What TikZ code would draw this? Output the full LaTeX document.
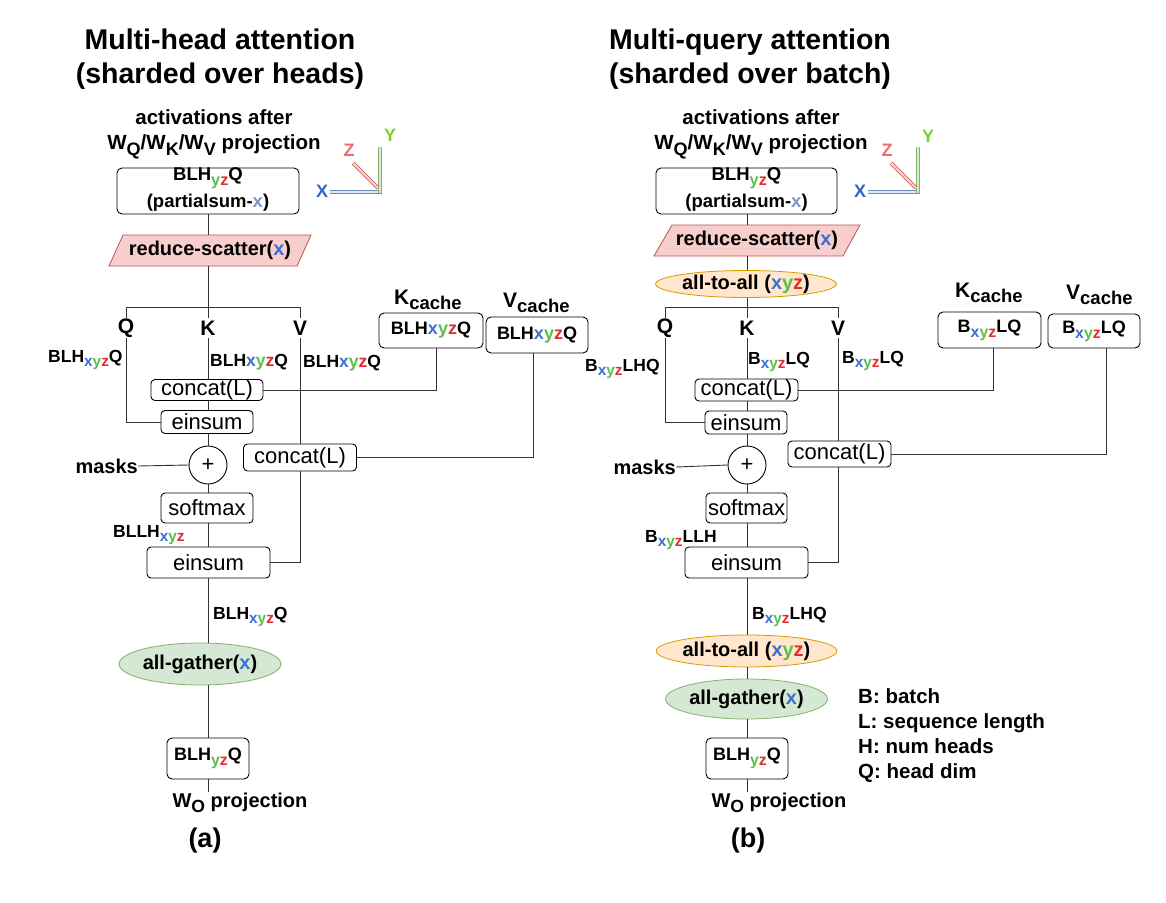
\documentclass[tikz,border=0pt]{standalone}
\usepackage{fontspec}
\setmainfont{Liberation Sans}
\usetikzlibrary{shapes.geometric}
\definecolor{cxb}{HTML}{3B6FD4}
\definecolor{cyg}{HTML}{5CBF4A}
\definecolor{czr}{HTML}{E52B2B}
\definecolor{cxl}{HTML}{7F94C9}
\definecolor{axXlab}{HTML}{2F66CC}
\definecolor{axYlab}{HTML}{77D12E}
\definecolor{axZlab}{HTML}{EE6E6E}
\definecolor{rsfill}{HTML}{F8CECC}
\definecolor{rsdraw}{HTML}{B85450}
\definecolor{agfill}{HTML}{D5E8D4}
\definecolor{agdraw}{HTML}{82B366}
\definecolor{aafill}{HTML}{FFE6CC}
\definecolor{aadraw}{HTML}{D79B00}
\definecolor{axXfill}{HTML}{DAE8FC}
\definecolor{axXdraw}{HTML}{6C8EBF}
\newcommand{\fsz}[1]{\fontsize{#1}{#1}\selectfont}
\newcommand{\sbs}[1]{\raisebox{-0.27em}{\scalebox{0.88}{#1}}}
\newcommand{\cX}{\textcolor{cxb}{x}}
\newcommand{\cY}{\textcolor{cyg}{y}}
\newcommand{\cZ}{\textcolor{czr}{z}}
\newcommand{\XYZ}{\cX\cY\cZ}
\newcommand{\sxyz}{\sbs{\XYZ}}
\newcommand{\syz}{\sbs{\cY\cZ}}
\begin{document}
\begin{tikzpicture}[x=1pt,y=-1pt,
  conn/.style={draw=black!80, line width=0.9pt},
  rbox/.style={draw=black, line width=0.9pt, rounded corners=5pt, inner sep=0pt, font=\fsz{18}\bfseries},
  opbox/.style={draw=black, line width=0.9pt, rounded corners=4pt, inner sep=0pt, font=\fsz{22}},
  lbl/.style={inner sep=0pt, font=\fsz{17.5}\bfseries},
  qkv/.style={inner sep=0pt, minimum height=20pt, font=\fsz{21}\bfseries},
  cachelbl/.style={inner sep=0pt, font=\fsz{21}\bfseries},
  ttl/.style={align=center, inner sep=0pt, font=\fontsize{28.5}{34}\selectfont\bfseries},
  hdr/.style={align=center, inner sep=0pt, font=\fontsize{20.5}{25}\selectfont\bfseries},
  rstext/.style={inner sep=0pt, minimum height=31pt, font=\fsz{20}\bfseries},
  rsshape/.style={fill=rsfill, draw=rsdraw, line width=0.8pt},
  aggr/.style={ellipse, fill=agfill, draw=agdraw, line width=0.8pt, inner sep=0pt, font=\fsz{20}\bfseries},
  atoa/.style={ellipse, fill=aafill, draw=aadraw, line width=0.8pt, inner sep=0pt, font=\fsz{20}\bfseries},
  plusc/.style={circle, draw=black, line width=0.9pt, minimum size=38pt, inner sep=0pt, font=\fsz{22}},
  axX/.style={draw=axXdraw, double=axXfill, double distance=2.2pt, line width=0.8pt},
  axY/.style={draw=agdraw, double=agfill, double distance=2.2pt, line width=0.8pt},
  axZ/.style={draw=rsdraw, double=rsfill, double distance=2.2pt, line width=0.8pt},
  axl/.style={inner sep=0pt, font=\fsz{18}\bfseries},
  wolbl/.style={inner sep=1pt, font=\fsz{20}\bfseries},
  sublbl/.style={inner sep=0pt, font=\fsz{27}\bfseries},
  leg/.style={inner sep=0pt, anchor=base west, font=\fsz{20.5}\bfseries}
]
\useasboundingbox (0,0) rectangle (1166,902);

% ================= (a) =================
\node[ttl] (t1) at (220,59) {Multi-head attention\\(sharded over heads)};
\node[hdr] (h1) at (214,134.5) {activations after\\W\sbs{Q}/W\sbs{K}/W\sbs{V} projection};
\node[rbox, minimum width=182pt, minimum height=46pt, align=center, font=\fontsize{18.5}{27}\selectfont\bfseries] (box1) at (208,191) {BLH\syz Q\\(partialsum-\textcolor{cxl}{x})\rule[-6pt]{0pt}{0pt}};

\draw[axX] (330,192) -- (382,192);
\draw[axY] (380,147) -- (380,193);
\draw[axZ] (353,163) -- (378,188);
\node[axl, text=axXlab] (xl1) at (322,191) {X};
\node[axl, text=axYlab] (yl1) at (390,135) {Y};
\node[axl, text=axZlab] (zl1) at (349,150) {Z};

\draw[rsshape] (123,235) -- (311,235) -- (297,266) -- (109,266) -- cycle;
\node[rstext] (rs1) at (210,250.5) {reduce-scatter(\textcolor{cxb}{x})};

\node[qkv] (Qa) at (126,328) {Q};
\node[qkv] (Ka) at (208,328) {K};
\node[qkv] (Va) at (300,328) {V};
\coordinate (br1) at (208,307);

\node[cachelbl, anchor=base west] (kcl1) at (394,304) {K\sbs{cache}};
\node[cachelbl, anchor=base west] (vcl1) at (503,307) {V\sbs{cache}};
\node[rbox, minimum width=104pt, minimum height=35pt] (kc1) at (431,330.5) {BLH\XYZ Q};
\node[rbox, minimum width=102pt, minimum height=36pt] (vc1) at (537,335) {BLH\XYZ Q};

\node[lbl, anchor=base west] (la1) at (48,362) {BLH\sxyz Q};
\node[lbl, anchor=base west] (lk1) at (210,366) {BLH\XYZ Q};
\node[lbl, anchor=base west] (lv1) at (303,367) {BLH\XYZ Q};

\node[opbox, minimum width=112pt, minimum height=21pt] (cat1) at (207,390) {concat(L)};
\node[opbox, minimum width=92pt, minimum height=23pt] (ein1) at (207,422) {einsum};
\node[opbox, minimum width=113pt, minimum height=27pt] (cat2) at (300,457.5) {concat(L)};
\node[plusc] (plus1) at (208,465) {+};
\node[inner sep=0pt, anchor=east, font=\fsz{20}\bfseries] (mk1) at (138,466) {masks};
\node[opbox, minimum width=92pt, minimum height=30pt] (sm1) at (207,508) {softmax};
\node[lbl, anchor=base west] (lsm1) at (113,537) {BLLH\sxyz};
\node[opbox, minimum width=123pt, minimum height=31pt] (ein2) at (208.5,562.5) {einsum};
\node[lbl, anchor=base west] (lo1) at (213,619) {BLH\sxyz Q};
\node[aggr, minimum width=140pt, minimum height=42pt] (ag1) at (200,664) {all-gather(\textcolor{cxb}{x})};
\node[rbox, minimum width=82pt, minimum height=41pt] (out1) at (208,758.5) {BLH\syz Q};
\node[wolbl] (wo1) at (240,803) {W\sbs{O} projection};
\node[sublbl] (sa) at (205,841) {(a)};

\draw[conn] (box1.south) -- (box1.south |- rs1.north);
\draw[conn] (br1 |- rs1.south) -- (br1);
\draw[conn] (Qa.north) -- (Qa.north |- br1) -- (Va.north |- br1) -- (Va.north);
\draw[conn] (br1) -- (Ka.north);
\draw[conn] (Qa.south) |- (ein1.west);
\draw[conn] (Ka.south) -- (Ka.south |- cat1.north);
\draw[conn] ([xshift=5pt]kc1.south) |- (cat1.east);
\draw[conn] (Ka.south |- cat1.south) -- (Ka.south |- ein1.north);
\draw[conn] (Ka.south |- ein1.south) -- (plus1.north);
\draw[conn] (mk1.east) -- (plus1.west);
\draw[conn] (plus1.south) -- (Ka.south |- sm1.north);
\draw[conn] (Ka.south |- sm1.south) -- (Ka.south |- ein2.north);
\draw[conn] (Va.south) -- (Va.south |- cat2.north);
\draw[conn] ([xshift=-4pt]vc1.south) |- (cat2.east);
\draw[conn] (Va.south |- cat2.south) |- (ein2.east);
\draw[conn] (Ka.south |- ein2.south) -- (Ka.south |- ag1.north);
\draw[conn] (Ka.south |- ag1.south) -- (out1.north);
\draw[conn] (out1.south) -- (out1.south |- wo1.north);

% ================= (b) =================
\node[ttl] (t2) at (750,59) {Multi-query attention\\(sharded over batch)};
\node[hdr] (h2) at (761,134.5) {activations after\\W\sbs{Q}/W\sbs{K}/W\sbs{V} projection};
\node[rbox, minimum width=181pt, minimum height=46pt, align=center, font=\fontsize{18.5}{27}\selectfont\bfseries] (box2) at (746.5,191) {BLH\syz Q\\(partialsum-\textcolor{cxl}{x})\rule[-6pt]{0pt}{0pt}};

\draw[axX] (868,192) -- (920,192);
\draw[axY] (918,147) -- (918,193);
\draw[axZ] (891,163) -- (916,188);
\node[axl, text=axXlab] (xl2) at (860,191) {X};
\node[axl, text=axYlab] (yl2) at (928,136) {Y};
\node[axl, text=axZlab] (zl2) at (887,150) {Z};

\draw[rsshape] (672,225) -- (860,225) -- (843,256) -- (654,256) -- cycle;
\node[rstext] (rs2) at (757,240.5) {reduce-scatter(\textcolor{cxb}{x})};
\node[atoa, minimum width=166pt, minimum height=27pt] (aa1) at (746,284) {all-to-all (\XYZ)};

\node[qkv] (Qb) at (665,328) {Q};
\node[qkv] (Kb) at (747,328) {K};
\node[qkv] (Vb) at (838,328) {V};
\coordinate (br2) at (747,307);

\node[cachelbl, anchor=base west] (kcl2) at (955,297) {K\sbs{cache}};
\node[cachelbl, anchor=base west] (vcl2) at (1066,299) {V\sbs{cache}};
\node[rbox, minimum width=103pt, minimum height=36pt] (kc2) at (989.5,330) {B\sxyz LQ};
\node[rbox, minimum width=92pt, minimum height=34pt] (vc2) at (1094,331) {B\sxyz LQ};

\node[lbl, anchor=base west] (la2) at (585,371) {B\sxyz LHQ};
\node[lbl, anchor=base west] (lk2) at (748,364) {B\sxyz LQ};
\node[lbl, anchor=base west] (lv2) at (842,363) {B\sxyz LQ};

\node[opbox, minimum width=103pt, minimum height=22pt] (cat3) at (746.5,390) {concat(L)};
\node[opbox, minimum width=82pt, minimum height=23pt] (ein3) at (746,422.5) {einsum};
\node[opbox, minimum width=103pt, minimum height=26pt] (cat4) at (839.5,454) {concat(L)};
\node[plusc] (plus2) at (747,465) {+};
\node[inner sep=0pt, anchor=east, font=\fsz{20}\bfseries] (mk2) at (676,467) {masks};
\node[opbox, minimum width=81pt, minimum height=30pt] (sm2) at (746.5,508) {softmax};
\node[lbl, anchor=base west] (lsm2) at (645,542) {B\sxyz LLH};
\node[opbox, minimum width=123pt, minimum height=31pt] (ein4) at (746.5,562.5) {einsum};
\node[lbl, anchor=base west] (lo2) at (752,619) {B\sxyz LHQ};
\node[atoa, minimum width=165pt, minimum height=32pt] (aa2) at (746.5,651) {all-to-all (\XYZ)};
\node[aggr, minimum width=145pt, minimum height=40pt] (ag2) at (746.5,699) {all-gather(\textcolor{cxb}{x})};
\node[rbox, minimum width=82pt, minimum height=41pt] (out2) at (747,758.5) {BLH\syz Q};
\node[wolbl] (wo2) at (779,803) {W\sbs{O} projection};
\node[sublbl] (sb) at (748,841) {(b)};

\node[leg] (lg1) at (858,703) {B: batch};
\node[leg] (lg2) at (858,728) {L: sequence length};
\node[leg] (lg3) at (858,753) {H: num heads};
\node[leg] (lg4) at (858,778) {Q: head dim};

\draw[conn] (br2 |- box2.south) -- (br2 |- rs2.north);
\draw[conn] (br2 |- rs2.south) -- (br2 |- aa1.north);
\draw[conn] (br2 |- aa1.south) -- (br2);
\draw[conn] (Qb.north) -- (Qb.north |- br2) -- (Vb.north |- br2) -- (Vb.north);
\draw[conn] (br2) -- (Kb.north);
\draw[conn] (Qb.south) |- (ein3.west);
\draw[conn] (Kb.south) -- (Kb.south |- cat3.north);
\draw[conn] ([xshift=3.5pt]kc2.south) |- (cat3.east);
\draw[conn] (Kb.south |- cat3.south) -- (Kb.south |- ein3.north);
\draw[conn] (Kb.south |- ein3.south) -- (plus2.north);
\draw[conn] (mk2.east) -- (plus2.west);
\draw[conn] (plus2.south) -- (Kb.south |- sm2.north);
\draw[conn] (Kb.south |- sm2.south) -- (Kb.south |- ein4.north);
\draw[conn] (Vb.south) -- (Vb.south |- cat4.north);
\draw[conn] ([xshift=12pt]vc2.south) |- (cat4.east);
\draw[conn] (Vb.south |- cat4.south) |- (ein4.east);
\draw[conn] (Kb.south |- ein4.south) -- (Kb.south |- aa2.north);
\draw[conn] (Kb.south |- aa2.south) -- (Kb.south |- ag2.north);
\draw[conn] (Kb.south |- ag2.south) -- (out2.north);
\draw[conn] (out2.south) -- (out2.south |- wo2.north);
\end{tikzpicture}
\end{document}
